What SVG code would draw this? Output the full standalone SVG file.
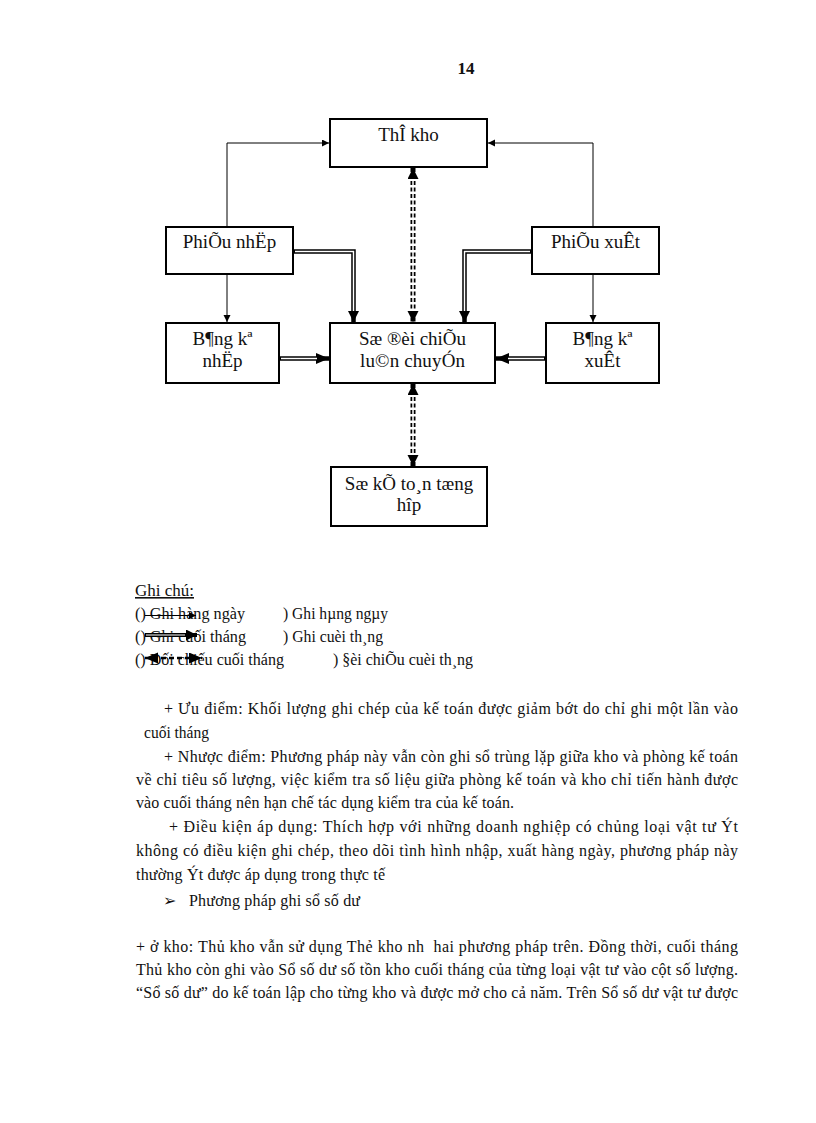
<svg xmlns="http://www.w3.org/2000/svg" width="816" height="1123" viewBox="0 0 816 1123">
<style>
.bg{fill:#fff}
.box{fill:#fff;stroke:#000;stroke-width:2}
.bt{font-family:"Liberation Serif","Times New Roman",serif;font-size:19px;fill:#111;text-anchor:middle}
.tx{font-family:"Liberation Serif","Times New Roman",serif;font-size:16px;fill:#111}
.thin{fill:none;stroke:#000;stroke-width:1}
.dbl{fill:none;stroke:#000;stroke-width:4.5;stroke-linejoin:miter}
.dblw{fill:none;stroke:#fff;stroke-width:1.5;stroke-linejoin:miter}
.dash{fill:none;stroke:#000;stroke-width:5;stroke-dasharray:4 2.5}
</style>
<defs>
<marker id="sm" markerUnits="userSpaceOnUse" markerWidth="8" markerHeight="8" refX="7" refY="3.5" orient="auto"><path d="M0,0 L7,3.5 L0,7 z" fill="#000"/></marker>
<marker id="bg" markerUnits="userSpaceOnUse" markerWidth="12" markerHeight="12" refX="11" refY="5.5" orient="auto-start-reverse"><path d="M0,0 L11,5.5 L0,11 z" fill="#000"/></marker>
<marker id="md" markerUnits="userSpaceOnUse" markerWidth="14" markerHeight="12" refX="13" refY="5.5" orient="auto-start-reverse"><path d="M0,0 L13,5.5 L0,11 z" fill="#000"/></marker>
</defs>
<rect class="bg" x="0" y="0" width="816" height="1123"/>
<text x="466" y="74" font-family="Liberation Serif,serif" font-size="17" font-weight="bold" text-anchor="middle" fill="#111">14</text>

<g id="n-thekho"><rect class="box" x="330" y="119" width="157" height="48"/><text class="bt" x="408.5" y="141">ThÎ kho</text></g>
<g id="n-phieunhap"><rect class="box" x="166" y="227" width="127" height="47"/><text class="bt" x="229.5" y="248">PhiÕu nhËp</text></g>
<g id="n-phieuxuat"><rect class="box" x="532" y="227" width="127" height="47"/><text class="bt" x="595.5" y="248">PhiÕu xuÊt</text></g>
<g id="n-bangkenhap"><rect class="box" x="166" y="323" width="113" height="60"/><text class="bt" x="222.5" y="345">B¶ng kª</text><text class="bt" x="222.5" y="367">nhËp</text></g>
<g id="n-sodoichieu"><rect class="box" x="330" y="323" width="165" height="60"/><text class="bt" x="412.5" y="345" textLength="107" lengthAdjust="spacing">Sæ ®èi chiÕu</text><text class="bt" x="412.5" y="367" textLength="105" lengthAdjust="spacing">lu©n chuyÓn</text></g>
<g id="n-bangkexuat"><rect class="box" x="546" y="323" width="113" height="60"/><text class="bt" x="602.5" y="345">B¶ng kª</text><text class="bt" x="602.5" y="367">xuÊt</text></g>
<g id="n-soketoan"><rect class="box" x="331" y="467" width="156" height="59"/><text class="bt" x="409" y="490">Sæ kÕ to¸n tæng</text><text class="bt" x="409" y="511">hîp</text></g>

<g id="connectors">
<path class="thin" d="M227,226 V143 H329" marker-end="url(#sm)"/>
<path class="thin" d="M593,226 V143 H488" marker-end="url(#sm)"/>
<path class="thin" d="M227,275 V322" marker-end="url(#sm)"/>
<path class="thin" d="M593,275 V322" marker-end="url(#sm)"/>
<path class="dbl" d="M294,251.5 H353.5 V322" marker-end="url(#bg)"/>
<path class="dblw" d="M295,251.5 H353.5 V311"/>
<path class="dbl" d="M531,251.5 H464.5 V322" marker-end="url(#bg)"/>
<path class="dblw" d="M530,251.5 H464.5 V311"/>
<path class="dbl" d="M280,358.5 H329" marker-end="url(#md)"/>
<path class="dblw" d="M281,358.5 H317"/>
<path class="dbl" d="M545,358.5 H496" marker-end="url(#md)"/>
<path class="dblw" d="M544,358.5 H508"/>
<path class="dash" d="M413,168 V322" marker-start="url(#bg)" marker-end="url(#bg)"/>
<path class="dblw" d="M413,179 V311"/>
<path class="dash" d="M413,384 V466" marker-start="url(#bg)" marker-end="url(#bg)"/>
<path class="dblw" d="M413,395 V455"/>
</g>

<g id="legend">
<text class="tx" x="135" y="596" textLength="59" lengthAdjust="spacingAndGlyphs" text-decoration="underline">Ghi chú:</text>
<text class="tx" x="135" y="619" textLength="110" lengthAdjust="spacingAndGlyphs">() Ghi hàng ngày</text>
<text class="tx" x="283" y="619" textLength="105" lengthAdjust="spacingAndGlyphs">) Ghi hµng ngµy</text>
<text class="tx" x="135" y="642" textLength="111" lengthAdjust="spacingAndGlyphs">() Ghi cuối tháng</text>
<text class="tx" x="283" y="642" textLength="100" lengthAdjust="spacingAndGlyphs">) Ghi cuèi th¸ng</text>
<text class="tx" x="135" y="665" textLength="149" lengthAdjust="spacingAndGlyphs">() Đối chiếu  cuối tháng</text>
<text class="tx" x="333" y="665" textLength="140" lengthAdjust="spacingAndGlyphs">) §èi chiÕu cuèi th¸ng</text>
<path class="thin" d="M145,615.5 H196" marker-end="url(#sm)"/>
<path fill="none" stroke="#000" stroke-width="4" d="M145,635 H197" marker-end="url(#bg)"/>
<path fill="none" stroke="#fff" stroke-width="1.2" d="M146,635 H185"/>
<path fill="none" stroke="#000" stroke-width="2.5" stroke-dasharray="5 3" d="M145,658 H202" marker-start="url(#md)" marker-end="url(#md)"/>
</g>

<g id="body">
<text class="tx" x="164" y="714" textLength="574" lengthAdjust="spacing">+ Ưu điểm: Khối lượng ghi chép của kế toán được giảm bớt do chỉ ghi một lần vào</text>
<text class="tx" x="144" y="738" textLength="65" lengthAdjust="spacingAndGlyphs">cuối tháng</text>
<text class="tx" x="164" y="762" textLength="574" lengthAdjust="spacing">+ Nhược điểm: Phương pháp này vẫn còn ghi sổ trùng lặp giữa kho và phòng kế toán</text>
<text class="tx" x="136" y="785" textLength="602" lengthAdjust="spacing">về chỉ tiêu số lượng, việc kiểm tra số liệu giữa phòng kế toán và kho chỉ tiến hành được</text>
<text class="tx" x="136" y="808" textLength="378" lengthAdjust="spacing">vào cuối tháng nên hạn chế tác dụng kiểm tra của kế toán.</text>
<text class="tx" x="169" y="832" textLength="569" lengthAdjust="spacing">+ Điều kiện áp dụng: Thích hợp với những doanh nghiệp có chủng loại vật tư Ýt</text>
<text class="tx" x="136" y="856" textLength="602" lengthAdjust="spacing">không có điều kiện ghi chép, theo dõi tình hình nhập, xuất hàng ngày, phương pháp này</text>
<text class="tx" x="136" y="880" textLength="249" lengthAdjust="spacing">thường Ýt được áp dụng trong thực tế</text>
<text class="tx" x="163" y="906">➢</text>
<text class="tx" x="189" y="906" textLength="171" lengthAdjust="spacing">Phương pháp ghi sổ số dư</text>
<text class="tx" x="136" y="952" textLength="602" lengthAdjust="spacing">+ ở kho: Thủ kho vẫn sử dụng Thẻ kho nh&#160; hai phương pháp trên. Đồng thời, cuối tháng</text>
<text class="tx" x="136" y="975" textLength="602" lengthAdjust="spacing">Thủ kho còn ghi vào Sổ số dư số tồn kho cuối tháng của từng loại vật tư vào cột số lượng.</text>
<text class="tx" x="136" y="998" textLength="602" lengthAdjust="spacing">“Sổ số dư” do kế toán lập cho từng kho và được mở cho cả năm. Trên Sổ số dư vật tư được</text>
</g>
</svg>
